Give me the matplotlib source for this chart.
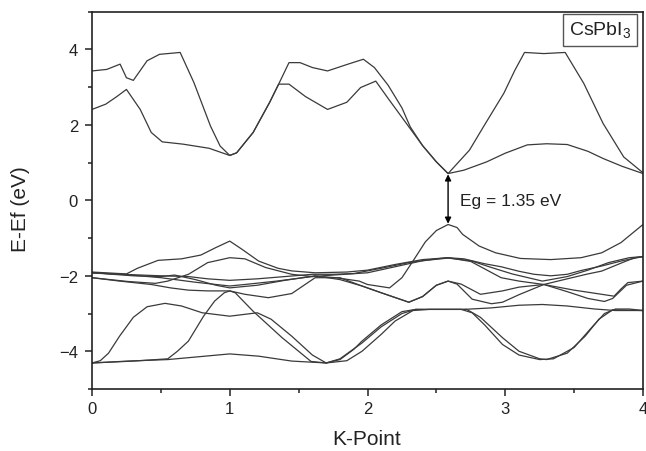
import matplotlib
matplotlib.use("Agg")
import matplotlib.pyplot as plt
from matplotlib.ticker import MultipleLocator

plt.rcParams['font.family'] = ['Liberation Sans', 'DejaVu Sans']
plt.rcParams['mathtext.fontset'] = 'custom'
plt.rcParams['mathtext.rm'] = 'Liberation Sans'

# ---------------- data (k-point, energy in eV) ----------------
c1_k = [0, 0.1, 0.18, 0.25, 0.35, 0.43, 0.51, 0.66, 0.85, 1.0, 1.05, 1.17, 1.29, 1.355, 1.43, 1.55, 1.71, 1.85, 1.95,
        2.06, 2.15, 2.25, 2.31, 2.4, 2.5, 2.585, 2.7, 2.865, 3.0, 3.16, 3.3, 3.45, 3.6, 3.71, 3.85, 4.0]
c1_e = [2.41, 2.55, 2.75, 2.94, 2.41, 1.80, 1.55, 1.49, 1.38, 1.19, 1.26, 1.80, 2.6, 3.08, 3.08, 2.75, 2.41, 2.6, 2.99,
        3.16, 2.7, 2.2, 1.9, 1.45, 1.02, 0.71, 0.8, 1.02, 1.25, 1.47, 1.50, 1.48, 1.3, 1.11, 0.9, 0.71]

c2_k = [0, 0.107, 0.204, 0.25, 0.30, 0.40, 0.49, 0.64, 0.74, 0.86, 0.93, 1.0, 1.05, 1.17, 1.29, 1.355, 1.43, 1.51, 1.6,
        1.71, 1.85, 1.97, 2.05, 2.15, 2.25, 2.31, 2.4, 2.5, 2.585, 2.74, 2.85, 2.99, 3.07, 3.14, 3.28, 3.435, 3.57,
        3.71, 3.86, 4.0]
c2_e = [3.43, 3.47, 3.61, 3.25, 3.18, 3.70, 3.87, 3.92, 3.12, 1.97, 1.44, 1.19, 1.26, 1.80, 2.6, 3.08, 3.65, 3.65, 3.52,
        3.43, 3.6, 3.74, 3.52, 3.05, 2.45, 1.95, 1.45, 1.02, 0.71, 1.33, 2.0, 2.84, 3.45, 3.92, 3.89, 3.92, 3.10,
        2.04, 1.15, 0.73]

v0_k = [0, 0.25, 0.5, 0.75, 1.0, 1.11, 1.34, 1.62, 1.77, 1.94, 2.0, 2.16, 2.25, 2.33, 2.42, 2.5, 2.585, 2.65, 2.69,
        2.81, 2.93, 3.11, 3.33, 3.55, 3.70, 3.84, 4.0]
v0_e = [-1.92, -1.97, -2.05, -2.17, -2.27, -2.23, -2.14, -2.01, -2.05, -2.14, -2.23, -2.32, -2.05, -1.61, -1.1, -0.8,
        -0.64, -0.72, -0.90, -1.21, -1.39, -1.54, -1.57, -1.52, -1.39, -1.12, -0.64]

v1_k = [0, 0.25, 0.33, 0.48, 0.65, 0.79, 0.9, 1.0, 1.09, 1.21, 1.35, 1.45, 1.62, 1.85, 2.0, 2.2, 2.4, 2.585, 2.7,
        2.85, 2.97, 3.1, 3.21, 3.33, 3.45, 3.55, 3.70, 3.85, 4.0]
v1_e = [-1.90, -1.95, -1.80, -1.59, -1.55, -1.45, -1.25, -1.08, -1.30, -1.61, -1.80, -1.87, -1.92, -1.90, -1.85, -1.70,
        -1.57, -1.52, -1.55, -1.68, -1.76, -1.88, -1.96, -2.0, -1.96, -1.86, -1.74, -1.60, -1.49]

v2_k = [0, 0.26, 0.46, 0.55, 0.70, 0.84, 1.0, 1.11, 1.26, 1.45, 1.6, 1.75, 2.0, 2.2, 2.4, 2.585, 2.75, 2.9, 3.05,
        3.27, 3.45, 3.6, 3.75, 3.9, 4.0]
v2_e = [-2.05, -2.15, -2.2, -2.14, -1.96, -1.65, -1.52, -1.55, -1.78, -1.96, -2.02, -1.98, -1.92, -1.76, -1.6, -1.53,
        -1.6, -1.78, -1.95, -2.14, -2.02, -1.85, -1.65, -1.52, -1.49]

v3_k = [0, 0.22, 0.5, 0.7, 0.84, 1.0, 1.2, 1.4, 1.6, 1.75, 1.9, 2.1, 2.3, 2.5, 2.585, 2.75, 2.97, 3.1, 3.28, 3.5,
        3.70, 3.79, 3.84, 3.89, 4.0]
v3_e = [-1.92, -1.96, -2.0, -2.02, -2.08, -2.12, -2.08, -2.02, -1.96, -1.96, -1.94, -1.8, -1.65, -1.55, -1.52, -1.62,
        -2.05, -2.14, -2.23, -2.38, -2.49, -2.54, -2.35, -2.18, -2.14]

v4_k = [0, 0.2, 0.43, 0.57, 0.7, 0.84, 1.0, 1.11, 1.28, 1.45, 1.62, 1.8, 1.96, 2.1, 2.3, 2.4, 2.5, 2.585, 2.65, 2.76,
        2.9, 2.98, 3.1, 3.28, 3.45, 3.6, 3.7, 3.85, 3.94, 4.0]
v4_e = [-2.05, -2.14, -2.23, -2.32, -2.38, -2.40, -2.40, -2.49, -2.58, -2.47, -2.05, -2.05, -2.27, -2.45, -2.70, -2.55,
        -2.25, -2.14, -2.22, -2.62, -2.74, -2.70, -2.50, -2.23, -2.08, -1.95, -1.875, -1.65, -1.52, -1.49]

v5_k = [0, 0.3, 0.5, 0.6, 0.75, 0.9, 1.0, 1.2, 1.4, 1.62, 1.8, 1.96, 2.1, 2.3, 2.4, 2.5, 2.585, 2.68, 2.82, 2.98,
        3.1, 3.28, 3.45, 3.6, 3.72, 3.78, 3.88, 4.0]
v5_e = [-1.92, -2.0, -2.02, -1.98, -2.1, -2.25, -2.32, -2.25, -2.12, -2.0, -2.1, -2.27, -2.45, -2.70, -2.55, -2.25,
        -2.14, -2.22, -2.49, -2.40, -2.30, -2.23, -2.42, -2.6, -2.68, -2.6, -2.25, -2.14]

la_k = [0, 0.06, 0.12, 0.2, 0.3, 0.4, 0.53, 0.65, 0.8, 1.0, 1.2, 1.3, 1.45, 1.6, 1.7, 1.85, 1.96, 2.1, 2.2, 2.33,
        2.45, 2.68, 2.76, 2.85, 2.98, 3.1, 3.25, 3.35, 3.5, 3.62, 3.72, 3.8, 3.9, 4.0]
la_e = [-4.31, -4.25, -4.05, -3.6, -3.1, -2.82, -2.73, -2.8, -2.98, -3.07, -2.98, -3.15, -3.6, -4.1, -4.31, -4.25,
        -4.0, -3.55, -3.2, -2.92, -2.89, -2.89, -2.98, -3.3, -3.82, -4.1, -4.22, -4.2, -3.9, -3.4, -3.0, -2.88, -2.88,
        -2.92]

lb_k = [0, 0.3, 0.55, 0.62, 0.70, 0.81, 0.89, 0.96, 1.0, 1.04, 1.17, 1.38, 1.59, 1.7, 1.8, 1.9, 1.96, 2.1, 2.25,
        2.35, 2.72, 2.82, 2.98, 3.1, 3.25, 3.3, 3.45, 3.58, 3.68, 3.78, 4.0]
lb_e = [-4.31, -4.26, -4.2, -4.0, -3.73, -3.07, -2.67, -2.45, -2.40, -2.45, -2.94, -3.64, -4.27, -4.31, -4.22, -3.95,
        -3.73, -3.3, -2.95, -2.89, -2.89, -3.1, -3.64, -4.0, -4.2, -4.22, -4.05, -3.6, -3.15, -2.9, -2.92]

lc_k = [0, 0.26, 0.55, 1.0, 1.21, 1.45, 1.7, 1.8, 1.96, 2.1, 2.25, 2.35, 2.7, 2.9, 3.1, 3.27, 3.45, 3.65, 3.8, 4.0]
lc_e = [-4.31, -4.26, -4.22, -4.07, -4.13, -4.26, -4.31, -4.2, -3.78, -3.35, -3.0, -2.89, -2.89, -2.85, -2.78, -2.76,
        -2.8, -2.88, -2.92, -2.92]

cbm_k, cbm_e = 2.585, 0.71
vbm_e = -0.64
gap_label = "Eg = 1.35 eV"
material = r"CsPbI$_\mathregular{3}$"
x_ticks = [0, 1, 2, 3, 4]
y_ticks = [-4, -2, 0, 2, 4]

bands = [(c1_k, c1_e), (c2_k, c2_e), (v0_k, v0_e), (v1_k, v1_e), (v2_k, v2_e), (v3_k, v3_e),
         (v4_k, v4_e), (v5_k, v5_e), (la_k, la_e), (lb_k, lb_e), (lc_k, lc_e)]

# ---------------- figure ----------------
fig = plt.figure(figsize=(6.46, 4.52), dpi=100)
ax = fig.add_axes([92 / 646, 1 - 390 / 452, 551 / 646, 377.3 / 452])

for k, e in bands:
    ax.plot(k, e, color='#3a3a3a', lw=0.9, solid_joinstyle='round')

ax.set_xlim(0, 4)
ax.set_ylim(-5, 5)
ax.set_xticks(x_ticks)
ax.set_yticks(y_ticks)
ax.xaxis.set_minor_locator(MultipleLocator(0.5))
ax.yaxis.set_minor_locator(MultipleLocator(1))
ax.tick_params(which='both', direction='out', top=False, right=False, width=1.1, color='#222222')
ax.tick_params(which='major', length=5)
ax.tick_params(which='minor', length=3)
ax.tick_params(axis='y', which='major', pad=5, labelsize=12, labelcolor='#222222')
ax.tick_params(axis='x', which='major', pad=3.5, labelsize=12, labelcolor='#222222')
for s in ax.spines.values():
    s.set_linewidth(1.2)
    s.set_color('#222222')

fig.text(367 / 646, 1 - 440 / 452, "K-Point", ha='center', va='center', fontsize=15, color='#222222')
fig.text(21 / 646, 1 - 209 / 452, "E-Ef (eV)", ha='center', va='center', rotation=90, fontsize=15,
         color='#222222')

ax.annotate('', xy=(cbm_k, cbm_e - 0.02), xytext=(cbm_k, vbm_e + 0.02),
            arrowprops=dict(arrowstyle='<|-|>', color='black', lw=1.0, mutation_scale=9,
                            shrinkA=0, shrinkB=0))
ax.text(2.67, 0.0, gap_label, ha='left', va='center', fontsize=12.5, color='#222222')

ax.text(0.922, 0.952, material, transform=ax.transAxes, ha='center', va='center', fontsize=14,
        color='#222222',
        bbox=dict(boxstyle='square,pad=0.3', fc='white', ec='#555555', lw=1.0))

fig.savefig('out.png', dpi=100)
